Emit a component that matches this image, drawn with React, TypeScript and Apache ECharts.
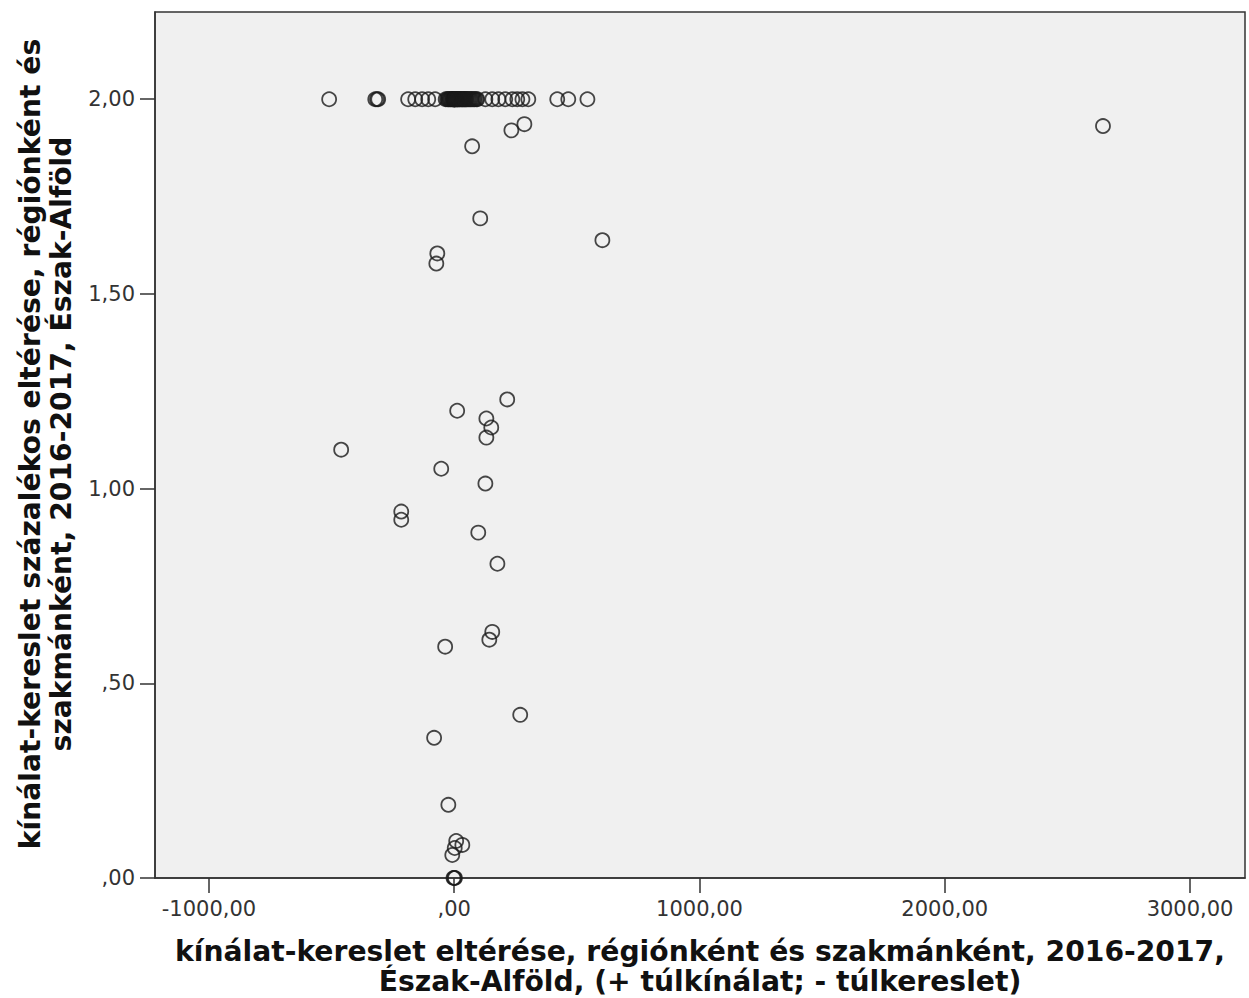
import React, { useEffect, useRef } from "react";
import * as echarts from "echarts";

// Points at y = 2.00 (top row)
const topRowX: number[] = [
  -510, -322, -315, -310, -188, -159, -131, -106, -78,
  -35, -29, -25, -22, -18, -15, -12, -8, -6, -4, -2, -1, 0, 0, 1, 2, 3, 5, 6, 8, 10, 12, 14, 15, 18, 20, 22, 25,
  28, 30, 33, 35, 38, 40, 43, 45, 48, 50, 54, 58, 62, 66, 70, 75, 80, 84, 90, 94,
  127, 155, 180, 208, 237, 257, 278, 302, 420, 465, 543,
];
// Other points [x, y]
const otherPoints: [number, number][] = [
  [233, 1.92], [286, 1.936], [2645, 1.931], [73, 1.879], [106, 1.694],
  [604, 1.638], [-69, 1.604], [-73, 1.578], [216, 1.229], [12, 1.2],
  [131, 1.18], [151, 1.157], [131, 1.131], [-461, 1.1], [-53, 1.051],
  [127, 1.013], [-216, 0.941], [-216, 0.92], [98, 0.887], [176, 0.807],
  [155, 0.632], [143, 0.612], [-37, 0.594], [269, 0.419], [-82, 0.36],
  [-24, 0.188], [8, 0.095], [33, 0.085], [2, 0.077], [-8, 0.059],
  [-3, 0], [0, 0], [3, 0],
];
const xTicks: number[] = [-1000, 0, 1000, 2000, 3000];
const yTicks: number[] = [0, 0.5, 1, 1.5, 2];
const xTitle = ["kínálat-kereslet eltérése, régiónként és szakmánként, 2016-2017,", "Észak-Alföld, (+ túlkínálat; - túlkereslet)"];
const yTitle = ["kínálat-kereslet százalékos eltérése, régiónként és", "szakmánként, 2016-2017, Észak-Alföld"];

const fmt = (v: number) => {
  const s = v.toFixed(2).replace(".", ",");
  if (s.startsWith("0,")) return s.slice(1);
  return s;
};

export default function App() {
  const ref = useRef<HTMLDivElement>(null);
  useEffect(() => {
    if (!ref.current) return;
    const chart = echarts.init(ref.current, undefined, { renderer: "svg" });
    const data = [
      ...topRowX.map((x) => [x, 2]),
      ...otherPoints,
    ];
    const titleFont = "'Liberation Sans Narrow', 'DejaVu Sans Condensed', 'Liberation Sans', sans-serif";
    const labelFont = "'DejaVu Sans', sans-serif";
    const titleStyle = { fontSize: 28, fontWeight: "bold", fontFamily: titleFont, fill: "#111", align: "center", verticalAlign: "middle" };
    chart.setOption({
      animation: false,
      backgroundColor: "#ffffff",
      grid: {
        left: 155, top: 12, width: 1090, height: 866,
        show: true, backgroundColor: "#f0f0f0", borderColor: "#333", borderWidth: 1.5,
      },
      xAxis: {
        type: "value", min: -1220, max: 3224,
        splitLine: { show: false },
        axisLine: { show: true, onZero: false, lineStyle: { color: "#333", width: 1.5 } },
        axisTick: { show: true, length: 15, customValues: xTicks, lineStyle: { color: "#333", width: 1.5 } },
        axisLabel: {
          customValues: xTicks, formatter: (v: number) => fmt(v), margin: 20,
          color: "#333", fontSize: 21, fontFamily: labelFont,
        },
      },
      yAxis: {
        type: "value", min: 0, max: 2.224,
        splitLine: { show: false },
        axisLine: { show: true, onZero: false, lineStyle: { color: "#333", width: 1.5 } },
        axisTick: { show: true, length: 15, customValues: yTicks, lineStyle: { color: "#333", width: 1.5 } },
        axisLabel: {
          customValues: yTicks, formatter: (v: number) => fmt(v), margin: 20,
          color: "#333", fontSize: 21, fontFamily: labelFont,
        },
      },
      series: [
        {
          type: "scatter",
          data,
          symbol: "circle",
          symbolSize: 14,
          itemStyle: { color: "rgba(0,0,0,0)", borderColor: "#1a1a1a", borderWidth: 1.8 },
        },
      ],
      graphic: [
        { type: "text", x: 700, y: 951, scaleX: 1.12, style: { ...titleStyle, text: xTitle[0] } },
        { type: "text", x: 700, y: 981, scaleX: 1.12, style: { ...titleStyle, text: xTitle[1] } },
        { type: "text", x: 30, y: 444, rotation: Math.PI / 2, scaleX: 1.12, style: { ...titleStyle, text: yTitle[0] } },
        { type: "text", x: 61, y: 444, rotation: Math.PI / 2, scaleX: 1.12, style: { ...titleStyle, text: yTitle[1] } },
      ],
    });
    return () => chart.dispose();
  }, []);
  return <div ref={ref} style={{ position: "fixed", left: 0, top: 0, width: 1249, height: 998 }} />;
}
